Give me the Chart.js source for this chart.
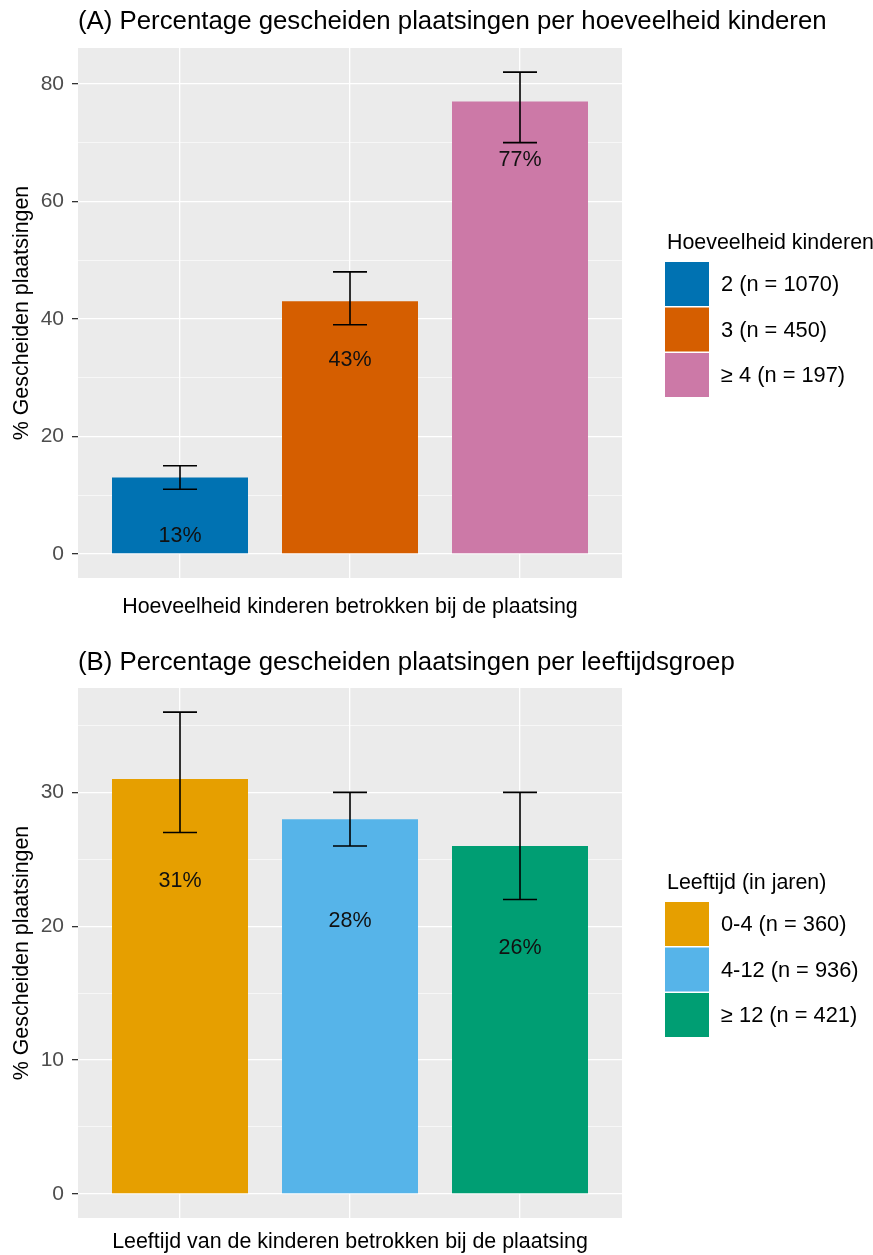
<!DOCTYPE html>
<html>
<head>
<meta charset="utf-8">
<script src="https://cdn.jsdelivr.net/npm/chart.js@4.4.1/dist/chart.umd.min.js"></script>
<style>
  html, body { margin: 0; padding: 0; background: #fff; }
  canvas { display: block; }
</style>
</head>
<body>
<canvas id="chartA" width="873" height="630"></canvas>
<canvas id="chartB" width="873" height="625"></canvas>
<script>
// Panel A: hoeveelheid kinderen
const kinderenLabels = ['2 (n = 1070)', '3 (n = 450)', '\u2265 4 (n = 197)'];
const kinderenPct = [13, 43, 77];
const kinderenLow = [11, 39, 70];
const kinderenHigh = [15, 48, 82];
const kinderenTicks = [0, 10, 20, 30, 40, 50, 60, 70, 80];
const kinderenMajor = [0, 20, 40, 60, 80];

// Panel B: leeftijd
const leeftijdLabels = ['0-4 (n = 360)', '4-12 (n = 936)', '\u2265 12 (n = 421)'];
const leeftijdPct = [31, 28, 26];
const leeftijdLow = [27, 26, 22];
const leeftijdHigh = [36, 30, 30];
const leeftijdTicks = [0, 5, 10, 15, 20, 25, 30, 35];
const leeftijdMajor = [0, 10, 20, 30];

const FONT = "'Liberation Sans', Arial, sans-serif";
const PANEL_BG = '#EBEBEB';

function makePanel(id, opts) {
    const ctx = document.getElementById(id).getContext('2d');

    const panelPlugin = {
        id: 'ggPanel',
        beforeDraw(chart) {
            const a = chart.chartArea;
            const c = chart.ctx;
            c.save();
            c.fillStyle = PANEL_BG;
            c.fillRect(a.left, a.top, a.right - a.left, a.bottom - a.top);
            c.restore();
        },
        afterDatasetsDraw(chart) {
            const c = chart.ctx;
            const x = chart.scales.x;
            const y = chart.scales.y;
            c.save();
            // error bars
            c.strokeStyle = '#000';
            c.lineWidth = 1.6;
            opts.values.forEach((v, i) => {
                const cx = x.getPixelForValue(i + 1);
                const x0 = x.getPixelForValue(i + 1 - 0.1);
                const x1 = x.getPixelForValue(i + 1 + 0.1);
                const yl = y.getPixelForValue(opts.low[i]);
                const yh = y.getPixelForValue(opts.high[i]);
                c.beginPath();
                c.moveTo(cx, yl); c.lineTo(cx, yh);
                c.moveTo(x0, yl); c.lineTo(x1, yl);
                c.moveTo(x0, yh); c.lineTo(x1, yh);
                c.stroke();
            });
            // percentage labels inside the bars
            c.fillStyle = '#111';
            c.font = '21.5px ' + FONT;
            c.textAlign = 'center';
            c.textBaseline = 'middle';
            opts.values.forEach((v, i) => {
                c.fillText(v + '%', x.getPixelForValue(i + 1), y.getPixelForValue(v - opts.labelDrop));
            });
            c.restore();
        },
        afterDraw(chart) {
            const a = chart.chartArea;
            const c = chart.ctx;
            c.save();
            // title
            c.fillStyle = '#000';
            c.font = '25.8px ' + FONT;
            c.textAlign = 'left';
            c.textBaseline = 'middle';
            c.fillText(opts.title, a.left, opts.titleY);

            // legend
            const keysTop = (a.top + a.bottom) / 2 - 51;
            const keyX = a.right + 43;
            c.font = '21.4px ' + FONT;
            c.fillText(opts.legendTitle, keyX + 2, keysTop - 19);
            c.font = '21.8px ' + FONT;
            opts.labels.forEach((lab, i) => {
                const ky = keysTop + i * 45.5;
                c.fillStyle = opts.colors[i];
                c.fillRect(keyX, ky, 44, 44);
                c.fillStyle = '#000';
                c.fillText(lab, keyX + 56, ky + 23);
            });
            c.restore();
        }
    };

    return new Chart(ctx, {
        type: 'bar',
        data: {
            datasets: [{
                data: opts.values.map((v, i) => ({ x: i + 1, y: v })),
                backgroundColor: opts.colors,
                borderWidth: 0,
                categoryPercentage: 0.8,
                barPercentage: 1
            }]
        },
        options: {
            responsive: false,
            animation: false,
            layout: { padding: { top: opts.top, right: 251, bottom: 0, left: 0 } },
            plugins: {
                legend: { display: false },
                tooltip: { enabled: false }
            },
            scales: {
                x: {
                    type: 'linear',
                    min: 0.4,
                    max: 3.6,
                    offset: false,
                    afterBuildTicks: s => { s.ticks = [1, 2, 3].map(v => ({ value: v })); },
                    afterFit: s => { s.height = opts.xAxisHeight; },
                    ticks: { display: false },
                    grid: { color: '#fff', lineWidth: 1.3, drawTicks: false, offset: false },
                    border: { display: false },
                    title: {
                        display: true,
                        text: opts.xTitle,
                        color: '#000',
                        font: { family: FONT, size: 21.4 },
                        padding: { top: 0, bottom: opts.xTitlePad }
                    }
                },
                y: {
                    min: opts.yMin,
                    max: opts.yMax,
                    afterBuildTicks: s => { s.ticks = opts.ticks.map(v => ({ value: v })); },
                    afterFit: s => { s.width = 78; },
                    ticks: {
                        color: '#4D4D4D',
                        font: { family: FONT, size: 21 },
                        padding: 8,
                        callback: v => opts.major.includes(v) ? String(v) : ''
                    },
                    grid: {
                        color: '#fff',
                        lineWidth: c => opts.major.includes(c.tick.value) ? 1.3 : 0.6,
                        tickColor: c => opts.major.includes(c.tick.value) ? '#333' : 'rgba(0,0,0,0)',
                        tickWidth: 1.3,
                        tickLength: 6
                    },
                    border: { display: false },
                    title: {
                        display: true,
                        text: '% Gescheiden plaatsingen',
                        color: '#000',
                        font: { family: FONT, size: 21.4 },
                        padding: { top: 9, bottom: 0 }
                    }
                }
            }
        },
        plugins: [panelPlugin]
    });
}

makePanel('chartA', {
    title: '(A) Percentage gescheiden plaatsingen per hoeveelheid kinderen',
    titleY: 22,
    top: 48,
    xAxisHeight: 52,
    xTitlePad: 10,
    xTitle: 'Hoeveelheid kinderen betrokken bij de plaatsing',
    legendTitle: 'Hoeveelheid kinderen',
    labels: kinderenLabels,
    values: kinderenPct,
    low: kinderenLow,
    high: kinderenHigh,
    ticks: kinderenTicks,
    major: kinderenMajor,
    yMin: -4.1,
    yMax: 86.1,
    labelDrop: 10,
    colors: ['#0072B2', '#D55E00', '#CC79A7']
});

makePanel('chartB', {
    title: '(B) Percentage gescheiden plaatsingen per leeftijdsgroep',
    titleY: 33,
    top: 58,
    xAxisHeight: 37,
    xTitlePad: 0,
    xTitle: 'Leeftijd van de kinderen betrokken bij de plaatsing',
    legendTitle: 'Leeftijd (in jaren)',
    labels: leeftijdLabels,
    values: leeftijdPct,
    low: leeftijdLow,
    high: leeftijdHigh,
    ticks: leeftijdTicks,
    major: leeftijdMajor,
    yMin: -1.8,
    yMax: 37.8,
    labelDrop: 7.6,
    colors: ['#E69F00', '#56B4E9', '#009E73']
});
</script>
</body>
</html>
